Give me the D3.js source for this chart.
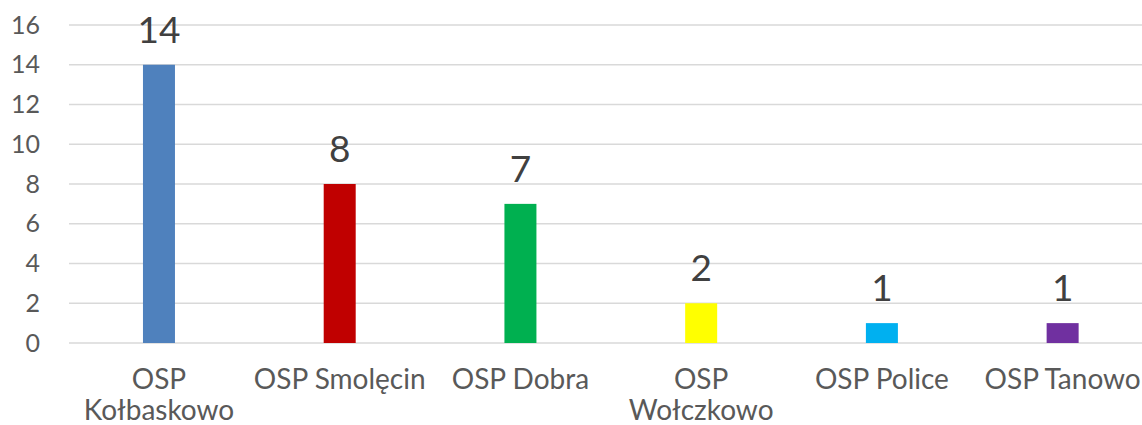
<!DOCTYPE html>
<html>
<head>
<meta charset="utf-8">
<script src="https://cdn.jsdelivr.net/npm/d3@7"></script>
<style>
  body { margin: 0; background: #fff; }
  text { font-family: Lato, "Open Sans", sans-serif; }
</style>
</head>
<body>
<div id="vis"></div>
<script>
// chart data
var categories = ["OSP Kołbaskowo", "OSP Smolęcin", "OSP Dobra", "OSP Wołczkowo", "OSP Police", "OSP Tanowo"];
var labelLines = [["OSP", "Kołbaskowo"], ["OSP Smolęcin"], ["OSP Dobra"], ["OSP", "Wołczkowo"], ["OSP Police"], ["OSP Tanowo"]];
var values = [14, 8, 7, 2, 1, 1];
var barColors = ["#4F81BD", "#C00000", "#00B050", "#FFFF00", "#00B0F0", "#7030A0"];
var yTicks = [0, 2, 4, 6, 8, 10, 12, 14, 16];

var width = 1142,
    height = 425;

var svg = d3.select("#vis").append("svg")
    .attr("width", width)
    .attr("height", height);

// x band scale, runs a bit past the right edge like the original crop
var x = d3.scaleBand()
    .domain(categories)
    .range([68.6, 1153]);

var y = d3.scaleLinear()
    .domain([0, 16])
    .range([343, 25]);

// gridlines
svg.append("g")
  .selectAll("line")
  .data(yTicks)
  .enter().append("line")
    .attr("x1", 69)
    .attr("x2", width)
    .attr("y1", function(d) { return y(d); })
    .attr("y2", function(d) { return y(d); })
    .attr("stroke", "#D9D9D9")
    .attr("stroke-width", 1.5);

// y axis labels
var yAxis = svg.append("g")
    .attr("transform", "translate(69,0)")
    .call(d3.axisLeft(y).tickValues(yTicks).tickSize(0).tickPadding(29));
yAxis.select(".domain").remove();
yAxis.selectAll("text")
    .attr("font-size", 25)
    .attr("font-family", "Lato, 'Open Sans', sans-serif")
    .attr("fill", "#595959");

var barW = 32;

// bars
svg.append("g")
  .selectAll("rect")
  .data(values)
  .enter().append("rect")
    .attr("x", function(d, i) { return x(categories[i]) + x.bandwidth() / 2 - barW / 2; })
    .attr("y", function(d) { return y(d); })
    .attr("width", barW)
    .attr("height", function(d) { return y(0) - y(d); })
    .attr("fill", function(d, i) { return barColors[i]; });

// value labels
svg.append("g")
  .selectAll("text")
  .data(values)
  .enter().append("text")
    .attr("x", function(d, i) { return x(categories[i]) + x.bandwidth() / 2; })
    .attr("y", function(d) { return y(d) - 22; })
    .attr("text-anchor", "middle")
    .attr("font-size", 37)
    .attr("fill", "#404040")
    .text(function(d) { return d; });

// category labels, wrapped like the original
var catLabels = svg.append("g")
  .selectAll("text")
  .data(categories)
  .enter().append("text")
    .attr("x", function(d) { return x(d) + x.bandwidth() / 2; })
    .attr("y", 389)
    .attr("text-anchor", "middle")
    .attr("font-size", 28)
    .attr("fill", "#595959");

catLabels.each(function(d, i) {
  var t = d3.select(this);
  labelLines[i].forEach(function(line, j) {
    t.append("tspan")
        .attr("x", x(d) + x.bandwidth() / 2)
        .attr("dy", j === 0 ? 0 : 31)
        .text(line);
  });
});
</script>
</body>
</html>
